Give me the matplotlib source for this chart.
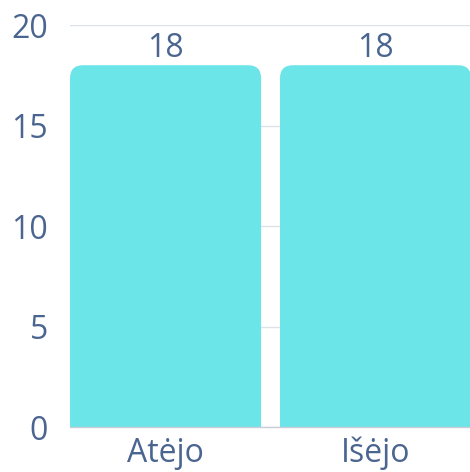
import matplotlib
matplotlib.use("Agg")
import matplotlib.pyplot as plt
from matplotlib.patches import FancyBboxPatch

categories = ["Atėjo", "Išėjo"]
values = [18, 18]
y_ticks = [0, 5, 10, 15, 20]

text_color = "#4a6590"
bar_color = "#6be5e8"

plt.rcParams["font.family"] = ["Open Sans", "DejaVu Sans"]

fig = plt.figure(figsize=(4.7, 4.72), dpi=100)
ax = fig.add_axes([0.149, 0.0953, 0.851, 0.8517])

x = list(range(len(categories)))
width = 0.91
bars = ax.bar(x, values, width=width, color="none")

# rounded tops: draw the boxes a bit below 0 so only the top corners show
for b in bars:
    patch = FancyBboxPatch(
        (b.get_x(), -2), b.get_width(), b.get_height() + 2,
        boxstyle="round,pad=0,rounding_size=0.062",
        mutation_aspect=10.5,
        facecolor=bar_color, edgecolor="none", zorder=2,
    )
    ax.add_patch(patch)
    ax.text(b.get_x() + b.get_width() / 2, b.get_height() + 0.0, f"{b.get_height():.0f}",
            ha="center", va="bottom", fontsize=23, color=text_color, zorder=3)

ax.set_xlim(-0.455, 1.45)
ax.set_ylim(0, 20)
ax.set_yticks(y_ticks)
ax.set_xticks(x)
ax.set_xticklabels(categories)
ax.tick_params(axis="both", length=0, labelsize=23, colors=text_color)
ax.tick_params(axis="y", pad=16)
ax.tick_params(axis="x", pad=7)
ax.grid(axis="y", color="#dde1e8", linewidth=1, zorder=0)
ax.set_axisbelow(True)
for s in ["top", "right", "left"]:
    ax.spines[s].set_visible(False)
ax.spines["bottom"].set_color("#c8cdd8")
ax.spines["bottom"].set_linewidth(1)

fig.savefig("out.png", dpi=100)
plt.close(fig)
